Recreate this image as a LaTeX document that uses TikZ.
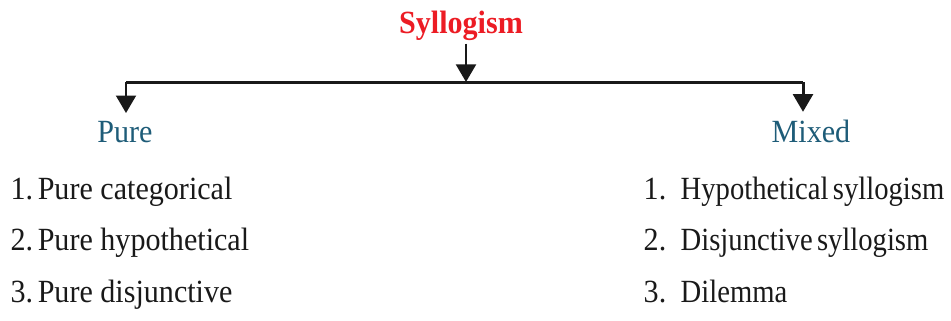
\documentclass[tikz,border=0pt]{standalone}
\usepackage{fontspec}
\setmainfont{Liberation Serif}
\usetikzlibrary{arrows.meta}
\definecolor{sylred}{RGB}{236,28,36}
\definecolor{headteal}{RGB}{30,92,120}
\newcommand{\sq}[1]{\scalebox{0.93}[1]{#1}}
\newcommand{\sqq}[1]{\scalebox{0.885}[1]{#1}}
\begin{document}
\begin{tikzpicture}[x=0.01cm,y=-0.01cm,
  conn/.style={line width=0.85pt,draw=black!90},
  arr/.style={conn,-{Triangle[width=5.6pt,length=5pt]}},
  item/.style={anchor=base west,inner sep=0pt,font=\fontsize{9.2}{11}\selectfont,text=black!90},
  head/.style={anchor=base,inner sep=2pt,font=\fontsize{9.2}{11}\selectfont,text=headteal},
  title/.style={anchor=base,inner sep=0.8pt,font=\fontsize{9.2}{11}\selectfont\bfseries,text=sylred}]
\useasboundingbox (0,0) rectangle (951,320);
\node[title] (syl) at (461,33) {\sq{Syllogism}};
\node[head] (pure) at (125,142) {\sq{Pure}};
\node[head] (mixed) at (811,142) {\sq{Mixed}};
\coordinate (barM) at (466,82);
\coordinate (barL) at (126,82);
\coordinate (barR) at (803,82);
\draw[arr] (syl.south -| barM) -- (barM);
\draw[conn] (barL) -- (barR);
\draw[arr] (barL) -- (barL |- pure.north);
\draw[arr] (barR) -- (barR |- mixed.north);
\node[item] (p1) at (10,199) {\sq{1.\hspace{0.15em}Pure categorical}};
\node[item] (p2) at (10,250) {\sq{2.\hspace{0.15em}Pure hypothetical}};
\node[item] (p3) at (10,302) {\sq{3.\hspace{0.15em}Pure disjunctive}};
\node[item] (m1n) at (643,199) {\sq{1.}};
\node[item] (m2n) at (643,250) {\sq{2.}};
\node[item] (m3n) at (643,302) {\sq{3.}};
\node[item] (m1) at (680,199) {\sqq{Hypothetical\hspace{0.15em}syllogism}};
\node[item] (m2) at (680,250) {\sqq{Disjunctive\hspace{0.15em}syllogism}};
\node[item] (m3) at (680,302) {\sqq{Dilemma}};
\end{tikzpicture}
\end{document}
